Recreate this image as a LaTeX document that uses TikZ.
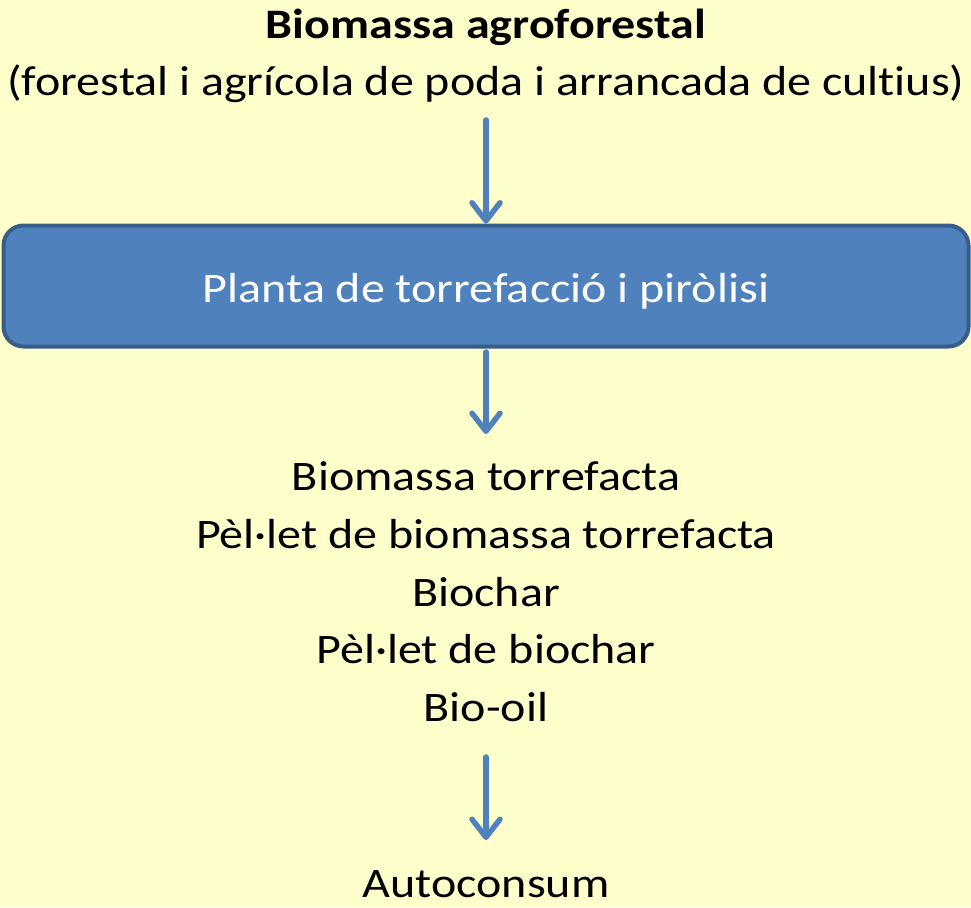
\documentclass[tikz,border=0pt]{standalone}
\definecolor{paper}{RGB}{255, 255, 204}
\definecolor{main}{RGB}{79, 129, 189}
\definecolor{mainline}{RGB}{56, 93, 138}
\usepackage{fontspec}
\setmainfont{Carlito}[FakeStretch=1.144, Ligatures=NoCommon]
\usetikzlibrary{arrows.meta, positioning}

\begin{document}
\begin{tikzpicture}[x=1pt, y=-1pt,
        txt/.style={font=\fontsize{42}{57.7}\selectfont, inner sep=0pt, align=center},
        flow/.style={main, line width=5.5pt, line cap=round,
            -{Straight Barb[length=18pt, width=28pt, line cap=round, line join=round]}}]
    \fill[paper] (0,0) rectangle (971,907);
    \useasboundingbox (0,0) rectangle (971,907);
    % source
    \node[txt, anchor=base, font=\fontsize{42}{57.7}\selectfont\bfseries] (title) at (486,38) {Biomassa agroforestal};
    \node[txt, anchor=base] (source) at (486,95) {(forestal i agrícola de poda i arrancada de cultius)};
    % plant
    \node[draw=mainline, fill=main, line width=4pt, rounded corners=20pt,
        minimum width=965pt, minimum height=121pt, inner sep=0pt] (plant) at (486,286) {};
    \node[txt, anchor=base, white] (plantlabel) at (486,302) {Planta de torrefacció i piròlisi};
    % products
    \node[txt, anchor=base] (prod1) at (486,490) {Biomassa torrefacta};
    \node[txt, anchor=base] (prod2) at (486,548) {Pèl·let de biomassa torrefacta};
    \node[txt, anchor=base] (prod3) at (486,606) {Biochar};
    \node[txt, anchor=base] (prod4) at (486,663) {Pèl·let de biochar};
    \node[txt, anchor=base] (prod5) at (486,721) {Bio-oil};
    \node[txt, anchor=base] (use) at (486,897) {Autoconsum};
    % arrows
    \coordinate (a1) at (486,120);
    \coordinate (a2) at (486,352);
    \coordinate (a3) at (486,757);
    \coordinate (b3) at (486,840);
    \coordinate (b2) at (486,434);
    \draw[flow] (a1) -- (plant.north);
    \draw[flow] (a2) -- (b2);
    \draw[flow] (a3) -- (b3);
\end{tikzpicture}
\end{document}
